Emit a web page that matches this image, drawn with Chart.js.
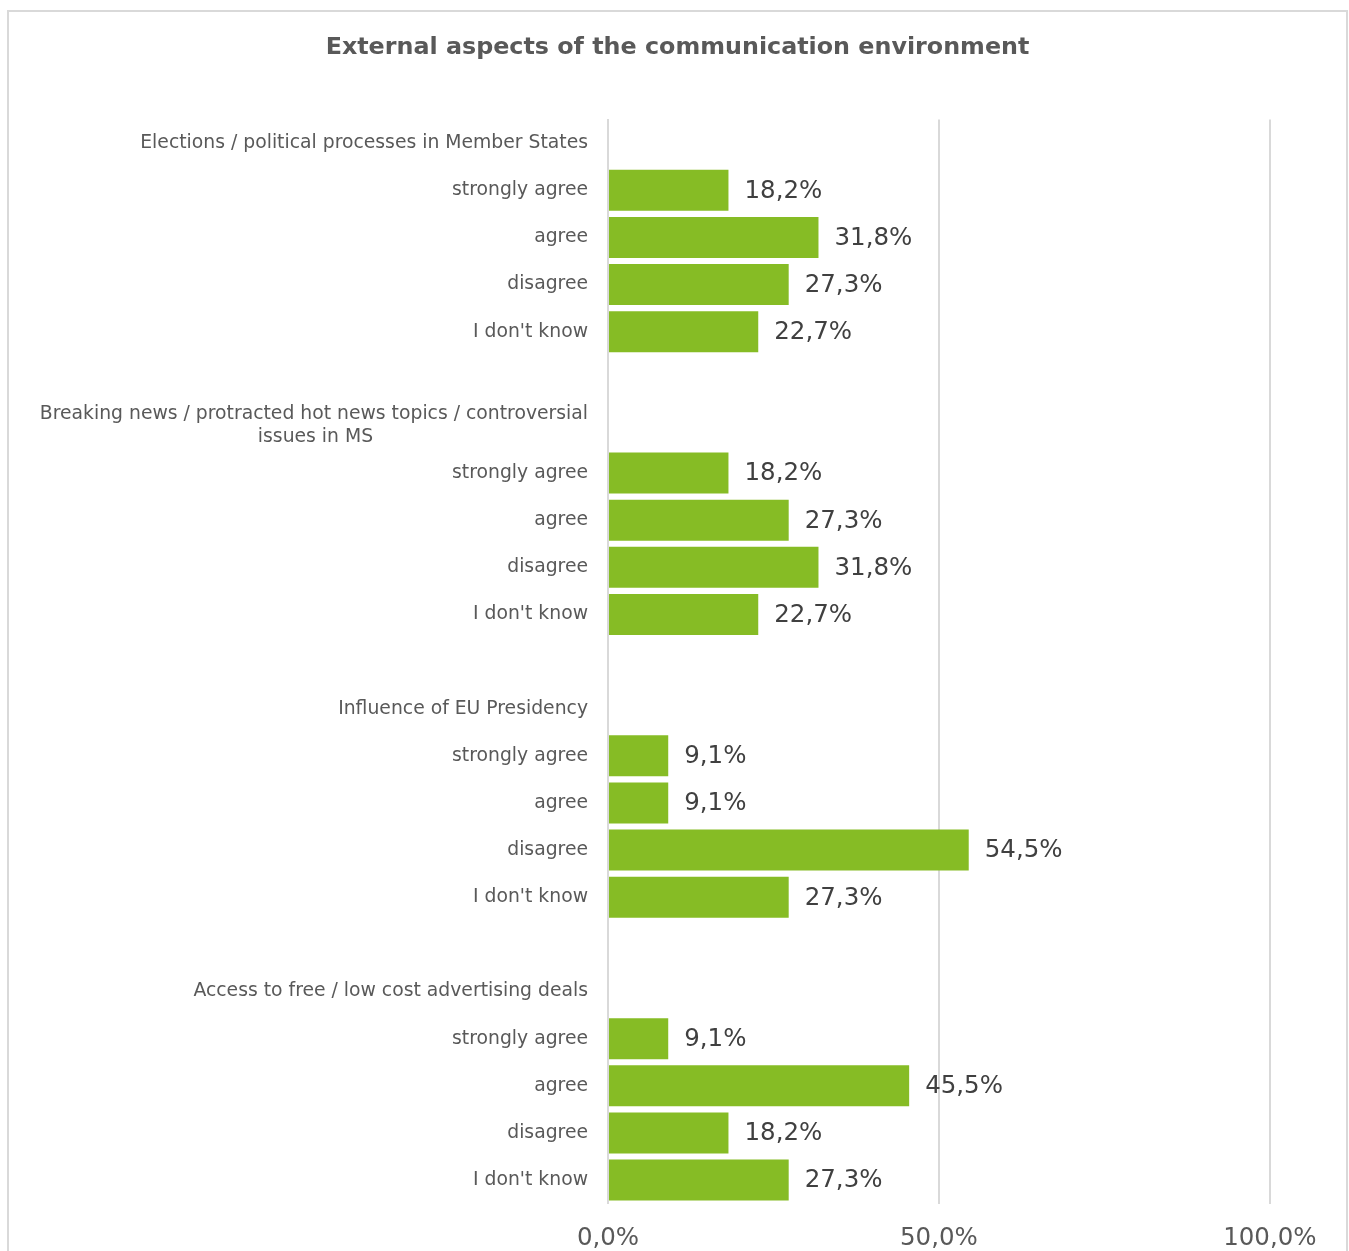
<!DOCTYPE html>
<html>
<head>
<meta charset="utf-8">
<script src="https://cdn.jsdelivr.net/npm/chart.js@4"></script>
<style>
  html, body { margin: 0; padding: 0; background: #fff; overflow: hidden; }
  #frame {
    position: absolute; left: 7px; top: 10px;
    width: 1337px; height: 1300px;
    border: 2px solid #d9d9d9;
  }
  #wrap { position: absolute; left: 0; top: 0; width: 1337px; height: 1265px; }
</style>
</head>
<body>
<div id="frame"><div id="wrap"><canvas id="chart"></canvas></div></div>
<script>
const chartTitle = "External aspects of the communication environment";

const groups = [
    "Elections / political processes in Member States",
    "Breaking news / protracted hot news topics / controversial issues in MS",
    "Influence of EU Presidency",
    "Access to free / low cost advertising deals"
];
const answers = ["strongly agree", "agree", "disagree", "I don't know"];

const electionsValues = [18.2, 31.8, 27.3, 22.7];
const breakingValues = [18.2, 27.3, 31.8, 22.7];
const presidencyValues = [9.1, 9.1, 54.5, 27.3];
const advertisingValues = [9.1, 45.5, 18.2, 27.3];

const xTicks = [0, 50, 100];

// build the category rows: header, 4 answers, blank spacer
const seriesByGroup = [electionsValues, breakingValues, presidencyValues, advertisingValues];
const labels = [];
const values = [];
groups.forEach((g, i) => {
    if (i > 0) { labels.push(""); values.push(null); }
    labels.push(g); values.push(null);
    answers.forEach((a, j) => { labels.push(a); values.push(seriesByGroup[i][j]); });
});

const FONT = "'DejaVu Sans', Verdana, sans-serif";
const LABEL_SIZE = 18.8;
const fmt = v => v.toFixed(1).replace(".", ",") + "%";

// split the long header into two lines, second line centred under the first
const measure = document.createElement("canvas").getContext("2d");
measure.font = LABEL_SIZE + "px " + FONT;
function tickLabel(text) {
    if (text !== groups[1]) return text;
    const l1 = "Breaking news / protracted hot news topics / controversial";
    const l2 = "issues in MS";
    const gap = (measure.measureText(l1).width - measure.measureText(l2).width) / 2;
    const n = Math.max(0, Math.round(gap / measure.measureText(" ").width));
    return [l1, l2 + " ".repeat(n)];
}

const valueLabels = {
    id: "valueLabels",
    afterDatasetsDraw(chart) {
        const ctx = chart.ctx;
        const meta = chart.getDatasetMeta(0);
        ctx.save();
        ctx.font = "24.5px " + FONT;
        ctx.fillStyle = "#404040";
        ctx.textAlign = "left";
        ctx.textBaseline = "middle";
        meta.data.forEach((bar, i) => {
            const v = values[i];
            if (v == null) return;
            ctx.fillText(fmt(v), bar.x + 16, bar.y + 1);
        });
        ctx.restore();
    }
};

new Chart(document.getElementById("chart"), {
    type: "bar",
    data: {
        labels: labels,
        datasets: [{
            data: values,
            backgroundColor: "#86bc25",
            borderWidth: 0,
            categoryPercentage: 1,
            barPercentage: 0.87
        }]
    },
    options: {
        indexAxis: "y",
        responsive: true,
        maintainAspectRatio: false,
        animation: false,
        layout: { padding: { top: 0, right: 0, bottom: 4, left: 0 } },
        plugins: {
            legend: { display: false },
            tooltip: { enabled: false },
            title: {
                display: true,
                text: chartTitle,
                color: "#595959",
                font: { family: FONT, size: 23.8, weight: "bold" },
                padding: { top: 22, bottom: 57 }
            }
        },
        scales: {
            x: {
                min: 0,
                // axis runs a little past 100% so the empty strip on the right matches
                max: 111.5,
                afterBuildTicks(scale) { scale.ticks = xTicks.map(v => ({ value: v })); },
                grid: { color: "#d9d9d9", lineWidth: 2, drawTicks: false },
                border: { display: false },
                ticks: {
                    color: "#595959",
                    padding: 20,
                    font: { family: FONT, size: 24.5 },
                    callback: v => fmt(v)
                }
            },
            y: {
                afterFit(scale) { scale.width = 599; },
                grid: { display: false, drawTicks: false },
                border: { display: true, color: "#d9d9d9", width: 2 },
                ticks: {
                    color: "#595959",
                    padding: 20,
                    autoSkip: false,
                    font: { family: FONT, size: LABEL_SIZE, lineHeight: 1.23 },
                    callback: function (v, i) { return tickLabel(labels[i]); }
                }
            }
        }
    },
    plugins: [valueLabels]
});
</script>
</body>
</html>
